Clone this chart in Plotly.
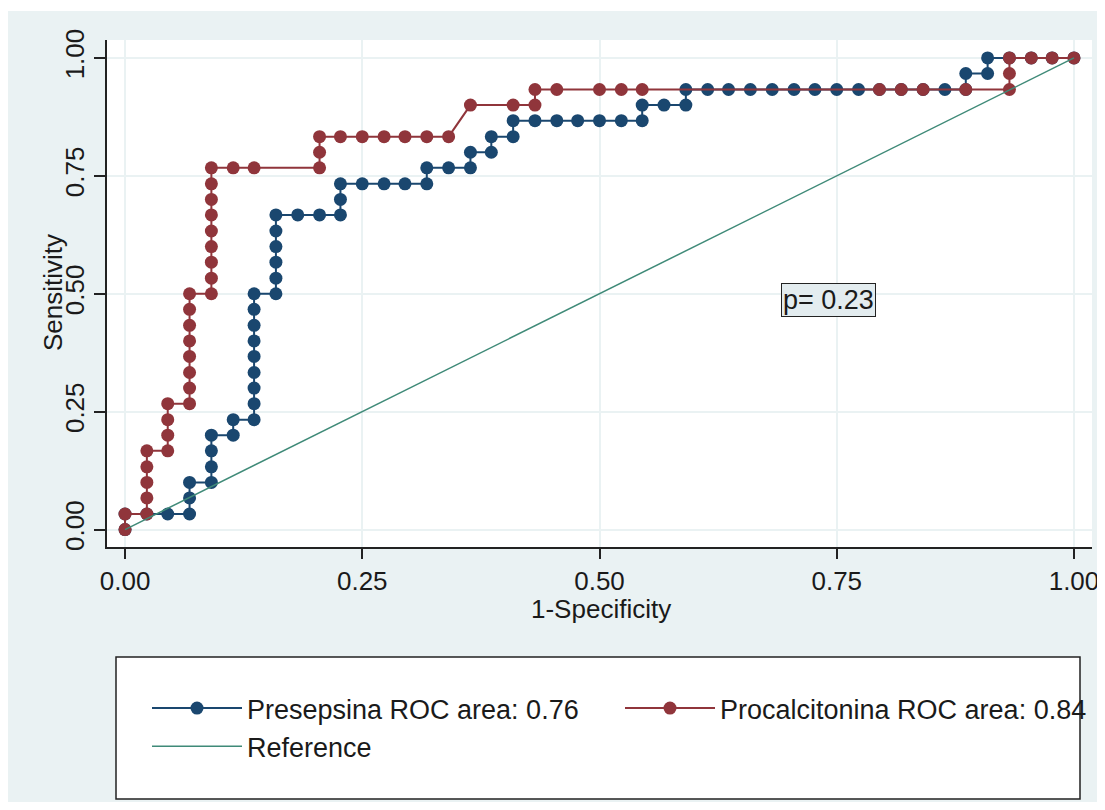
import plotly.graph_objects as go

# ---- data ----
# Presepsina ROC curve: 1-specificity and sensitivity
pres_x = [0.000, 0.000, 0.023, 0.045, 0.068, 0.068, 0.068, 0.091, 0.091, 0.091, 0.091,
          0.114, 0.114, 0.136, 0.136, 0.136, 0.136, 0.136, 0.136, 0.136, 0.136, 0.136,
          0.159, 0.159, 0.159, 0.159, 0.159, 0.159, 0.182, 0.205, 0.227, 0.227, 0.227,
          0.250, 0.273, 0.295, 0.318, 0.318, 0.341, 0.364, 0.364, 0.386, 0.386, 0.409,
          0.409, 0.432, 0.455, 0.477, 0.500, 0.523, 0.545, 0.545, 0.568, 0.591, 0.591,
          0.614, 0.636, 0.659, 0.682, 0.705, 0.727, 0.750, 0.773, 0.795, 0.818, 0.841,
          0.864, 0.886, 0.886, 0.909, 0.909, 0.932, 0.955, 0.977, 1.000]
pres_y = [0.000, 0.033, 0.033, 0.033, 0.033, 0.067, 0.100, 0.100, 0.133, 0.167, 0.200,
          0.200, 0.233, 0.233, 0.267, 0.300, 0.333, 0.367, 0.400, 0.433, 0.467, 0.500,
          0.500, 0.533, 0.567, 0.600, 0.633, 0.667, 0.667, 0.667, 0.667, 0.700, 0.733,
          0.733, 0.733, 0.733, 0.733, 0.767, 0.767, 0.767, 0.800, 0.800, 0.833, 0.833,
          0.867, 0.867, 0.867, 0.867, 0.867, 0.867, 0.867, 0.900, 0.900, 0.900, 0.933,
          0.933, 0.933, 0.933, 0.933, 0.933, 0.933, 0.933, 0.933, 0.933, 0.933, 0.933,
          0.933, 0.933, 0.967, 0.967, 1.000, 1.000, 1.000, 1.000, 1.000]

# Procalcitonina ROC curve
proc_x = [0.000, 0.000, 0.023, 0.023, 0.023, 0.023, 0.023, 0.045, 0.045, 0.045, 0.045,
          0.068, 0.068, 0.068, 0.068, 0.068, 0.068, 0.068, 0.068, 0.091, 0.091, 0.091,
          0.091, 0.091, 0.091, 0.091, 0.091, 0.091, 0.114, 0.136, 0.205, 0.205, 0.205,
          0.227, 0.250, 0.273, 0.295, 0.318, 0.341, 0.364, 0.409, 0.432, 0.432, 0.455,
          0.500, 0.523, 0.545, 0.795, 0.818, 0.841, 0.886, 0.932, 0.932, 0.932, 0.955,
          0.977, 1.000]
proc_y = [0.000, 0.033, 0.033, 0.067, 0.100, 0.133, 0.167, 0.167, 0.200, 0.233, 0.267,
          0.267, 0.300, 0.333, 0.367, 0.400, 0.433, 0.467, 0.500, 0.500, 0.533, 0.567,
          0.600, 0.633, 0.667, 0.700, 0.733, 0.767, 0.767, 0.767, 0.767, 0.800, 0.833,
          0.833, 0.833, 0.833, 0.833, 0.833, 0.833, 0.900, 0.900, 0.900, 0.933, 0.933,
          0.933, 0.933, 0.933, 0.933, 0.933, 0.933, 0.933, 0.933, 0.967, 1.000, 1.000,
          1.000, 1.000]

# Reference diagonal
ref_x = [0.0, 1.0]
ref_y = [0.0, 1.0]

series_names = ["Presepsina ROC area: 0.76", "Procalcitonina ROC area: 0.84", "Reference"]
tick_vals = [0.0, 0.25, 0.5, 0.75, 1.0]
tick_text = ["0.00", "0.25", "0.50", "0.75", "1.00"]
x_title = "1-Specificity"
y_title = "Sensitivity"
p_label = "p= 0.23"

# ---- styling ----
FONT = "Liberation Sans, Arial, sans-serif"
TXT = "#1a1a1a"
BLUE = "#1a476f"
RED = "#90353b"
GREEN = "#3f8a78"
BG = "#eaf2f3"
GRID = "#eaf2f3"

fig = go.Figure()
fig.add_trace(go.Scatter(x=pres_x, y=pres_y, mode="lines+markers", name=series_names[0],
                         line=dict(color=BLUE, width=2),
                         marker=dict(color=BLUE, size=13, symbol="circle")))
fig.add_trace(go.Scatter(x=proc_x, y=proc_y, mode="lines+markers", name=series_names[1],
                         line=dict(color=RED, width=2),
                         marker=dict(color=RED, size=13, symbol="circle")))
fig.add_trace(go.Scatter(x=ref_x, y=ref_y, mode="lines", name=series_names[2],
                         line=dict(color=GREEN, width=1.5)))

# page has an 8px body margin, so the figure is offset by 8px in the window;
# height chosen so that the page does not overflow vertically
OFF = 8
W, H = 1097, 794
L, R, T, B = 99, 13, 32, 255
pw, ph = W - L - R, H - T - B

def px(sx):
    # screen x -> paper x
    return (sx - OFF - L) / pw

def py(sy):
    # screen y -> paper y
    return (H - B - (sy - OFF)) / ph

shapes = [
    # thin white band at the very top
    dict(type="rect", xref="paper", yref="paper", x0=px(0), x1=px(1105), y0=py(11), y1=py(8),
         fillcolor="white", line=dict(width=0), layer="below"),
    # legend frame
    dict(type="rect", xref="paper", yref="paper", x0=px(116), x1=px(1080), y0=py(799), y1=py(657),
         fillcolor="white", line=dict(color="#222222", width=1.5), layer="below"),
]

annotations = [
    dict(x=0.741, y=0.487, xref="x", yref="y", text=p_label, showarrow=False,
         font=dict(size=27, family=FONT, color=TXT),
         bgcolor="#e3ecef", bordercolor="#222222", borderwidth=1, borderpad=1),
    dict(x=px(53), y=py(293), xref="paper", yref="paper", text=y_title, showarrow=False,
         textangle=-90, xanchor="center", yanchor="middle",
         font=dict(size=26, family=FONT, color=TXT)),
    dict(x=px(601), y=py(609), xref="paper", yref="paper", text=x_title, showarrow=False,
         xanchor="center", yanchor="middle",
         font=dict(size=26, family=FONT, color=TXT)),
]

fig.update_layout(
    width=W, height=H,
    margin=dict(l=L, r=R, t=T, b=B, autoexpand=False),
    paper_bgcolor=BG, plot_bgcolor="white",
    font=dict(family=FONT, size=26, color=TXT),
    showlegend=True,
    legend=dict(orientation="h", x=px(147), xanchor="left", y=py(684), yanchor="top",
                bgcolor="rgba(0,0,0,0)", borderwidth=0, itemwidth=90,
                entrywidth=368, entrywidthmode="pixels",
                font=dict(size=27, family=FONT, color=TXT), traceorder="normal"),
    shapes=shapes,
    annotations=annotations,
)

fig.update_xaxes(range=[-0.019, 1.019], tickvals=tick_vals, ticktext=tick_text,
                 ticks="outside", ticklen=10, tickwidth=1.5, tickcolor="#222222",
                 showline=True, linecolor="#222222", linewidth=1.5,
                 showgrid=True, gridcolor=GRID, gridwidth=2, zeroline=False)
fig.update_yaxes(range=[-0.037, 1.038], tickvals=tick_vals, ticktext=tick_text,
                 tickangle=-90, ticklabelstandoff=0,
                 ticks="outside", ticklen=11, tickwidth=1.5, tickcolor="#222222",
                 showline=True, linecolor="#222222", linewidth=1.5,
                 showgrid=True, gridcolor=GRID, gridwidth=2, zeroline=False)

fig.write_html("out.html")
